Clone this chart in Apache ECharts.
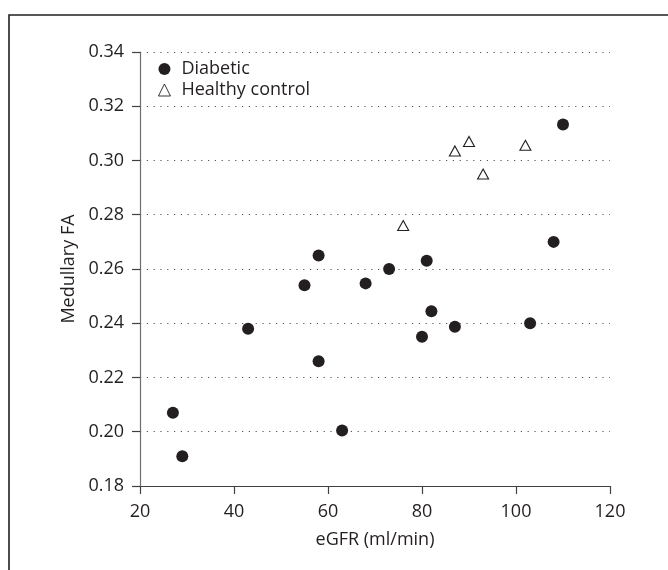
<!DOCTYPE html>
<html>
<head>
<meta charset="utf-8">
<script src="https://cdn.jsdelivr.net/npm/echarts@6/dist/echarts.min.js"></script>
<style>
  html, body { margin: 0; padding: 0; background: #fff; }
  #chart { width: 668px; height: 570px; }
</style>
</head>
<body>
<div id="chart"></div>
<script>
// Data
const diabeticEGFR = [27, 29, 43, 55, 58, 58, 63, 68, 73, 80, 81, 82, 87, 103, 108, 110];
const diabeticFA   = [0.207, 0.191, 0.238, 0.254, 0.265, 0.226, 0.2005, 0.2547, 0.260, 0.235, 0.263, 0.2444, 0.2387, 0.240, 0.270, 0.3133];
const controlEGFR  = [76, 87, 90, 93, 102];
const controlFA    = [0.276, 0.3035, 0.307, 0.295, 0.3056];
const seriesNames  = ['Diabetic', 'Healthy control'];
const xAxisTitle   = 'eGFR (ml/min)';
const yAxisTitle   = 'Medullary FA';

const ink = '#231f20';
const font = 'Open Sans';
const fs = 18;

const chart = echarts.init(document.getElementById('chart'), null, { renderer: 'canvas' });

const pairs = (xs, ys) => xs.map((x, i) => [x, ys[i]]);

chart.setOption({
  animation: false,
  backgroundColor: '#fff',
  textStyle: { fontFamily: font, color: ink },
  graphic: [{
    type: 'rect',
    shape: { x: 9, y: 15, width: 720, height: 620 },
    style: { fill: 'none', stroke: ink, lineWidth: 1.6 },
    silent: true
  }],
  grid: { left: 140, right: 58, top: 52, bottom: 84, containLabel: false },
  legend: {
    orient: 'vertical',
    left: 153,
    top: 55,
    itemWidth: 12,
    itemHeight: 12,
    itemGap: 3,
    data: [
      { name: seriesNames[0], icon: 'circle' },
      { name: seriesNames[1], icon: 'triangle', itemStyle: { color: '#fff', borderColor: ink, borderWidth: 0.9 } }
    ],
    textStyle: { fontFamily: font, fontSize: fs, color: ink, lineHeight: 18, padding: [0, 0, 0, 6] }
  },
  xAxis: {
    type: 'value',
    min: 20, max: 120, interval: 20,
    name: xAxisTitle,
    nameLocation: 'middle',
    nameGap: 45,
    nameTextStyle: { fontFamily: font, fontSize: fs, color: ink },
    axisLine: { show: true, lineStyle: { color: '#414042', width: 1.2 } },
    axisTick: { show: true, inside: false, length: 8, lineStyle: { color: '#414042', width: 1.2 } },
    axisLabel: { fontFamily: font, fontSize: fs, color: ink, margin: 17 },
    splitLine: { show: false }
  },
  yAxis: {
    type: 'value',
    min: 0.18, max: 0.34, interval: 0.02,
    name: yAxisTitle,
    nameLocation: 'middle',
    nameGap: 62,
    nameTextStyle: { fontFamily: font, fontSize: fs, color: ink },
    axisLine: { show: true, lineStyle: { color: '#6d6e71', width: 1.2 } },
    axisTick: { show: true, inside: false, length: 8, lineStyle: { color: '#414042', width: 1.2 } },
    axisLabel: { fontFamily: font, fontSize: fs, color: ink, margin: 16, formatter: v => v.toFixed(2) },
    splitLine: { show: true, lineStyle: { color: '#555', width: 1.2, type: [1.2, 5.6] } }
  },
  series: [
    {
      name: seriesNames[0],
      type: 'scatter',
      symbol: 'circle',
      symbolSize: 12,
      itemStyle: { color: ink, opacity: 1 },
      data: pairs(diabeticEGFR, diabeticFA)
    },
    {
      name: seriesNames[1],
      type: 'scatter',
      symbol: 'triangle',
      symbolSize: [11, 10],
      itemStyle: { color: '#fff', borderColor: ink, borderWidth: 1.1, opacity: 1 },
      data: pairs(controlEGFR, controlFA)
    }
  ]
});
</script>
</body>
</html>
